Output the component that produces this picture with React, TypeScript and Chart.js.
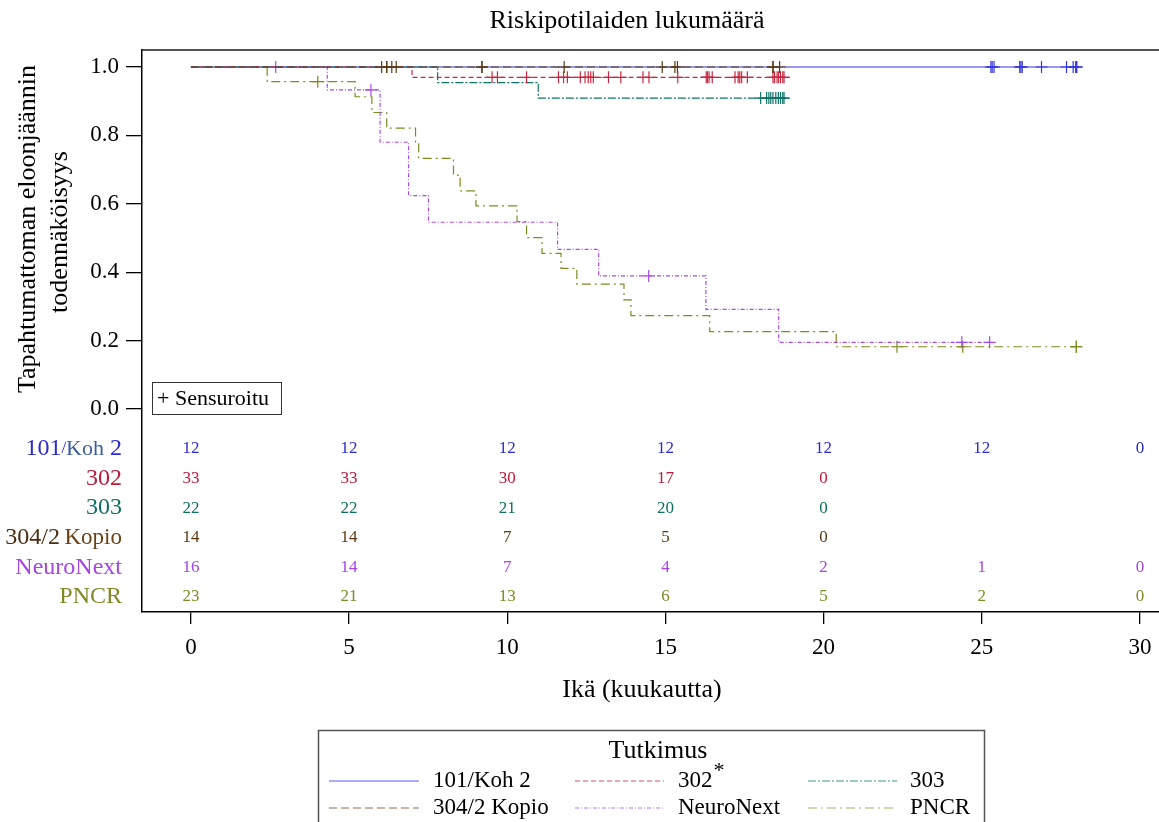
import React, { useEffect, useRef } from 'react';
import { Chart, registerables } from 'chart.js';

Chart.register(...registerables);

const FONT = '"Liberation Serif", "Times New Roman", serif';

const chartTitle = 'Riskipotilaiden lukumäärä';
const xAxisTitle = 'Ikä (kuukautta)';
const yAxisTitleLines = ['Tapahtumattoman eloonjäännin', 'todennäköisyys'];
const legendTitle = 'Tutkimus';
const censorLabel = '+ Sensuroitu';

const studyNames = ['101/Koh 2', '302', '303', '304/2 Kopio', 'NeuroNext', 'PNCR'];

const xTicks = [0, 5, 10, 15, 20, 25, 30];
const yTicks = [0, 0.2, 0.4, 0.6, 0.8, 1.0];

// number at risk at xTicks
const risk101 = ['12', '12', '12', '12', '12', '12', '0'];
const risk302 = ['33', '33', '30', '17', '0', '', ''];
const risk303 = ['22', '22', '21', '20', '0', '', ''];
const risk304 = ['14', '14', '7', '5', '0', '', ''];
const riskNeuro = ['16', '14', '7', '4', '2', '1', '0'];
const riskPNCR = ['23', '21', '13', '6', '5', '2', '0'];

// Kaplan-Meier steps: time of drop, survival after drop
const time101 = [0, 28.0];
const surv101 = [1, 1];
const time302 = [0, 6.99, 18.75];
const surv302 = [1, 0.9697, 0.9697];
const time303 = [0, 7.8, 10.98, 18.75];
const surv303 = [1, 0.9545, 0.909, 0.909];
const time304 = [0, 18.62];
const surv304 = [1, 1];
const timeNeuro = [0, 4.31, 5.98, 6.88, 7.51, 11.59, 12.89, 16.28, 18.58, 25.28];
const survNeuro = [1, 0.933, 0.78, 0.624, 0.546, 0.467, 0.389, 0.2915, 0.195, 0.195];
const timePNCR = [0, 2.41, 5.19, 5.72, 6.19, 7.1, 7.2, 8.3, 8.51, 9.01, 10.31, 10.61, 11.1, 11.7, 12.2, 13.69, 13.91, 16.4, 20.4, 28.0];
const survPNCR = [1, 0.957, 0.913, 0.867, 0.821, 0.779, 0.733, 0.684, 0.638, 0.594, 0.548, 0.501, 0.455, 0.411, 0.365, 0.319, 0.273, 0.226, 0.182, 0.182];

// censoring times
const cens101 = [25.29, 25.33, 25.39, 26.2, 26.24, 26.28, 26.89, 27.68, 27.89, 27.97, 28.0, 28.0];
const cens302 = [9.52, 9.69, 10.61, 11.62, 11.78, 11.9, 12.31, 12.46, 12.56, 12.64, 12.72, 13.2, 13.59, 14.29, 14.48,
  15.39, 16.29, 16.33, 16.38, 16.48, 17.2, 17.3, 17.35, 17.41, 17.59, 18.4, 18.45, 18.53, 18.58, 18.64, 18.71, 18.75];
const cens303 = [18.01, 18.2, 18.27, 18.33, 18.4, 18.49, 18.57, 18.64, 18.71, 18.75];
const cens304 = [6.03, 6.19, 6.19, 6.35, 6.49, 9.2, 9.2, 11.8, 14.9, 15.3, 15.38, 18.4, 18.4, 18.61];
const censNeuro = [2.68, 5.69, 14.47, 24.37, 25.25];
const censPNCR = [4.01, 22.32, 24.4, 27.99, 27.99];

const seriesTimes = [time101, time302, time303, time304, timeNeuro, timePNCR];
const seriesSurv = [surv101, surv302, surv303, surv304, survNeuro, survPNCR];
const seriesCens = [cens101, cens302, cens303, cens304, censNeuro, censPNCR];
const seriesRisk = [risk101, risk302, risk303, risk304, riskNeuro, riskPNCR];

// styles
const lineColors = ['#3434e0', '#c52a40', '#0f7468', '#5a3a14', '#a64be8', '#7f8a20'];
const textColors = ['#2a2ad8', '#b81c3a', '#0e6e62', '#5a3a14', '#a446e6', '#7f8a26'];
const legendColors = ['#5a5ae6', '#d0505e', '#3f9890', '#8a6e58', '#b27aee', '#a8b060'];
const lineDashes = [[], [5, 3], [8, 2, 2, 2], [8, 4], [4, 2, 1, 2], [9, 4, 2, 4]];
const drawOrder = [5, 1, 2, 0, 3, 4];

const X_MIN = -1.547;
const X_MAX = 31.04;
const Y_MIN = -0.5936;
const Y_MAX = 1.0497;

function survAt(times: number[], surv: number[], t: number): number {
  let s = surv[0];
  for (let i = 0; i < times.length; i++) {
    if (times[i] <= t) s = surv[i];
  }
  return s;
}

function font(size: number) {
  return `${size}px ${FONT}`;
}

const overlayPlugin = {
  id: 'overlay',
  afterDraw(chart: any) {
    const ctx: CanvasRenderingContext2D = chart.ctx;
    const { left, right, top, bottom } = chart.chartArea;
    const xs = chart.scales.x;
    ctx.save();

    // frame top / right
    ctx.strokeStyle = '#1a1a1a';
    ctx.lineWidth = 1.5;
    ctx.beginPath();
    ctx.moveTo(left, top);
    ctx.lineTo(right, top);
    ctx.lineTo(right, bottom);
    ctx.stroke();

    ctx.fillStyle = '#000';
    ctx.textBaseline = 'middle';

    // title
    ctx.font = font(26);
    ctx.textAlign = 'center';
    ctx.fillText(chartTitle, 627, 21);

    // x title
    ctx.font = font(26);
    ctx.fillText(xAxisTitle, 642, 690);

    // y title
    ctx.save();
    ctx.font = font(26);
    ctx.translate(28, 229);
    ctx.rotate(-Math.PI / 2);
    ctx.fillText(yAxisTitleLines[0], 0, 0);
    ctx.restore();
    ctx.save();
    ctx.font = font(26);
    ctx.translate(60, 232);
    ctx.rotate(-Math.PI / 2);
    ctx.fillText(yAxisTitleLines[1], 0, 0);
    ctx.restore();

    // censored box
    ctx.strokeStyle = '#333';
    ctx.lineWidth = 1;
    ctx.strokeRect(152.5, 382.5, 129, 32);
    ctx.font = font(22);
    ctx.textAlign = 'left';
    ctx.fillStyle = '#000';
    ctx.fillText(censorLabel, 157, 399);

    // risk table
    const rowY0 = 449;
    const rowStep = 29.6;
    for (let r = 0; r < studyNames.length; r++) {
      const y = rowY0 + r * rowStep;
      let segs: { t: string; c: string; s: number }[];
      const name = studyNames[r];
      if (r === 0) {
        const p = name.split('/');
        const q = p[1].split(' ');
        segs = [
          { t: p[0], c: textColors[0], s: 24 },
          { t: '/', c: textColors[0], s: 17 },
          { t: q[0], c: '#3c5ea0', s: 22 },
          { t: ' ' + q[1], c: textColors[0], s: 24 },
        ];
      } else if (r === 3) {
        const q = name.split(' ');
        segs = [
          { t: q[0], c: '#4a2e10', s: 24 },
          { t: '\u2009' + q[1], c: '#6b4216', s: 23 },
        ];
      } else {
        segs = [{ t: name, c: textColors[r], s: 24 }];
      }
      let w = 0;
      for (const sg of segs) {
        ctx.font = font(sg.s);
        w += ctx.measureText(sg.t).width;
      }
      let x = 122 - w;
      ctx.textAlign = 'left';
      for (const sg of segs) {
        ctx.font = font(sg.s);
        ctx.fillStyle = sg.c;
        ctx.fillText(sg.t, x, y);
        x += ctx.measureText(sg.t).width;
      }
      ctx.font = font(17);
      ctx.textAlign = 'center';
      ctx.fillStyle = textColors[r];
      const vals = seriesRisk[r];
      for (let i = 0; i < xTicks.length; i++) {
        if (vals[i] === '') continue;
        ctx.fillText(vals[i], xs.getPixelForValue(xTicks[i]), y);
      }
    }

    // legend
    ctx.strokeStyle = '#555';
    ctx.lineWidth = 1.5;
    ctx.strokeRect(318.5, 730.5, 666, 110);
    ctx.fillStyle = '#000';
    ctx.font = font(26);
    ctx.textAlign = 'center';
    ctx.fillText(legendTitle, 658, 751);
    const colLine = [[329, 419], [575, 664], [808, 897]];
    const colText = [433, 678, 910];
    const rowYs = [781, 808];
    for (let i = 0; i < studyNames.length; i++) {
      const row = Math.floor(i / 3);
      const col = i % 3;
      const y = rowYs[row];
      ctx.save();
      ctx.strokeStyle = legendColors[i];
      ctx.lineWidth = 1.2;
      ctx.setLineDash(lineDashes[i]);
      ctx.beginPath();
      ctx.moveTo(colLine[col][0], y);
      ctx.lineTo(colLine[col][1], y);
      ctx.stroke();
      ctx.restore();
      ctx.fillStyle = '#000';
      ctx.font = font(23);
      ctx.textAlign = 'left';
      ctx.fillText(studyNames[i], colText[col], y);
      if (studyNames[i] === '302') {
        const tw = ctx.measureText(studyNames[i]).width;
        ctx.font = font(22);
        ctx.fillText('*', colText[col] + tw + 1, y - 10);
      }
    }

    ctx.restore();
  },
};

export default function App() {
  const ref = useRef<HTMLCanvasElement>(null);
  useEffect(() => {
    if (!ref.current) return;
    const datasets: any[] = [];
    for (let i = 0; i < studyNames.length; i++) {
      const times = seriesTimes[i];
      const surv = seriesSurv[i];
      datasets.push({
        label: studyNames[i],
        data: times.map((t, k) => ({ x: t, y: surv[k] })),
        borderColor: lineColors[i],
        borderWidth: 1.2,
        borderDash: lineDashes[i],
        stepped: true,
        pointRadius: 0,
        fill: false,
        order: drawOrder[i],
      });
      datasets.push({
        label: studyNames[i] + ' censored',
        data: seriesCens[i].map((t) => ({ x: t, y: survAt(times, surv, t) })),
        showLine: false,
        pointStyle: 'cross',
        pointRadius: 6,
        pointBorderWidth: 1.2,
        pointBorderColor: lineColors[i],
        pointBackgroundColor: lineColors[i],
        borderColor: lineColors[i],
        order: drawOrder[i],
      });
    }
    const chart = new Chart(ref.current, {
      type: 'line',
      data: { datasets },
      options: {
        responsive: false,
        animation: false,
        devicePixelRatio: 1,
        layout: { padding: { left: 0, top: 50, right: 5, bottom: 0 } },
        plugins: {
          legend: { display: false },
          tooltip: { enabled: false },
          title: { display: false },
        },
        scales: {
          x: {
            type: 'linear',
            min: X_MIN,
            max: X_MAX,
            afterBuildTicks: (s: any) => {
              s.ticks = xTicks.map((v) => ({ value: v }));
            },
            afterFit: (s: any) => {
              s.height = 822 - 612;
            },
            grid: { drawOnChartArea: false, drawTicks: true, tickLength: 12, color: '#000', lineWidth: 1.3 },
            border: { display: true, color: '#000', width: 1.5 },
            ticks: {
              font: { family: FONT, size: 23 },
              color: '#000',
              padding: 10,
              maxRotation: 0,
              autoSkip: false,
              callback: (v: any) => String(v),
            },
          },
          y: {
            type: 'linear',
            min: Y_MIN,
            max: Y_MAX,
            afterBuildTicks: (s: any) => {
              s.ticks = yTicks.map((v) => ({ value: v }));
            },
            afterFit: (s: any) => {
              s.width = 142;
            },
            grid: { drawOnChartArea: false, drawTicks: true, tickLength: 16, color: '#000', lineWidth: 1.3 },
            border: { display: true, color: '#000', width: 1.5 },
            ticks: {
              font: { family: FONT, size: 23 },
              color: '#000',
              padding: 7,
              autoSkip: false,
              callback: (v: any) => Number(v).toFixed(1),
            },
          },
        },
      },
      plugins: [overlayPlugin],
    } as any);
    return () => chart.destroy();
  }, []);
  return (
    <div style={{ position: 'fixed', left: 0, top: 0, width: 1159, height: 822, overflow: 'hidden', background: '#fff' }}>
      <canvas ref={ref} width={1180} height={822} style={{ display: 'block', width: 1180, height: 822 }} />
    </div>
  );
}
